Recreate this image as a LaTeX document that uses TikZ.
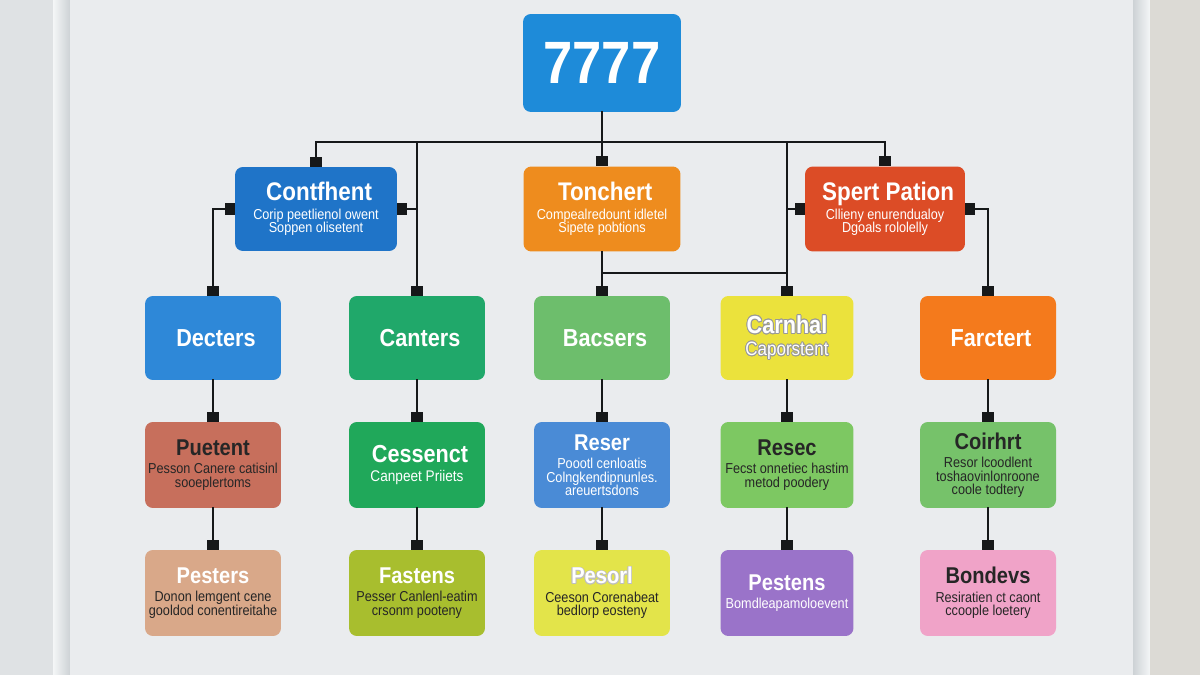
\documentclass[tikz,border=0pt]{standalone}
\usepackage{fontspec}
\setmainfont{Liberation Sans}[FakeStretch=0.88]
\usepackage{contour}
\contourlength{0.45pt}
\usetikzlibrary{arrows.meta}

\definecolor{wallleft}{HTML}{DFE2E4}
\definecolor{wallright}{HTML}{DCDAD5}
\definecolor{board}{HTML}{EAECEE}
\definecolor{framelight}{HTML}{F4F6F7}
\definecolor{framedark}{HTML}{CDD2D5}
\definecolor{wirec}{HTML}{161819}
\definecolor{cRoot}{HTML}{1E8BD9}
\definecolor{cCont}{HTML}{1F74C8}
\definecolor{cTonc}{HTML}{EE8C1E}
\definecolor{cSper}{HTML}{DC4C26}
\definecolor{cDect}{HTML}{2E88D8}
\definecolor{cCant}{HTML}{20A86A}
\definecolor{cBacs}{HTML}{6DBE6C}
\definecolor{cCarn}{HTML}{EBE23C}
\definecolor{cFarc}{HTML}{F47A1C}
\definecolor{cPuet}{HTML}{C76F5C}
\definecolor{cCess}{HTML}{20A85A}
\definecolor{cRese}{HTML}{4A8BD6}
\definecolor{cResc}{HTML}{7DC862}
\definecolor{cCoir}{HTML}{76C26A}
\definecolor{cPest}{HTML}{D9A889}
\definecolor{cFast}{HTML}{A8BE2E}
\definecolor{cPeso}{HTML}{E3E44A}
\definecolor{cPtns}{HTML}{9A73C9}
\definecolor{cBond}{HTML}{F0A3C8}

\newcommand{\boxtitle}[1][13]{\fontsize{#1}{#1}\selectfont\bfseries}
\newcommand{\boxsub}{\fontsize{8.2}{7.6}\selectfont\lineskiplimit=-20pt\relax}

\begin{document}
\begin{tikzpicture}[x=0.02cm, y=-0.02cm,
        box/.style={rounded corners=4.5pt, minimum width=2.72cm, minimum height=1.68cm, inner sep=1pt, align=center, text=white, font=\boxsub},
        dark/.style={text=black!85},
        wire/.style={line width=1.4pt, draw=wirec, line cap=rect},
        tabend/.style={wire, -{Rectangle[length=5.5pt,width=7pt]}},
        tabboth/.style={wire, {Rectangle[length=5.5pt,width=7pt]}-{Rectangle[length=5.5pt,width=7pt]}}]
    % wall, frame and board
    \useasboundingbox (0,0) rectangle (1200,675);
    \fill[wallleft] (0,0) rectangle (53,675);
    \shade[left color=framelight, right color=framedark] (53,0) rectangle (70,675);
    \fill[board] (70,0) rectangle (1133,675);
    \shade[left color=framedark, right color=framelight] (1133,0) rectangle (1150,675);
    \fill[wallright] (1150,0) rectangle (1200,675);

    % top and first row
    \node[box, fill=cRoot, minimum width=3.16cm, minimum height=1.96cm, font=\fontsize{34}{34}\selectfont\bfseries] (root) at (602,63) {7777};
    \node[box, fill=cCont, minimum width=3.24cm] (cont) at (316,209) {\boxtitle[14.5] Contfhent\\[3pt] Corip peetlienol owent\\ Soppen olisetent};
    \node[box, fill=cTonc, minimum width=3.14cm, minimum height=1.7cm] (tonc) at (602,209) {\boxtitle[14.5] Tonchert\\[3pt] Compealredount idletel\\ Sipete pobtions};
    \node[box, fill=cSper, minimum width=3.2cm, minimum height=1.7cm] (sper) at (885,209) {\boxtitle[14.5] Spert Pation\\[3pt] Cllieny enurendualoy\\ Dgoals rololelly};

    % second row
    \node[box, fill=cDect] (dect) at (213,338) {\boxtitle[14] Decters};
    \node[box, fill=cCant] (cant) at (417,338) {\boxtitle[14] Canters};
    \node[box, fill=cBacs] (bacs) at (602,338) {\boxtitle[14] Bacsers};
    \node[box, fill=cCarn, minimum width=2.66cm] (carn) at (787,338) {{\boxtitle[14]\contour{black!40}{Carnhal}}\\[5pt] {\fontsize{11}{11}\selectfont\contour{black!40}{Caporstent}}};
    \node[box, fill=cFarc] (farc) at (988,338) {\boxtitle[14] Farctert};

    % third row
    \node[box, dark, fill=cPuet, minimum height=1.72cm] (puet) at (213,465) {\boxtitle Puetent\\[3pt] Pesson Canere catisinl\\ sooeplertoms};
    \node[box, fill=cCess, minimum height=1.72cm] (cess) at (417,465) {\boxtitle[14] Cessenct\\[3pt] {\fontsize{8.8}{8.8}\selectfont Canpeet Priiets}};
    \node[box, fill=cRese, minimum height=1.72cm] (rese) at (602,465) {\boxtitle Reser\\[3pt] Poootl cenloatis\\ Colngkendipnunles.\\ areuertsdons};
    \node[box, dark, fill=cResc, minimum width=2.66cm, minimum height=1.72cm] (resc) at (787,465) {\boxtitle Resec\\[3pt] Fecst onnetiec hastim\\ metod poodery};
    \node[box, dark, fill=cCoir, minimum height=1.72cm] (coir) at (988,465) {\boxtitle Coirhrt\\[3pt] Resor lcoodlent\\ toshaovinlonroone\\ coole todtery};

    % fourth row
    \node[box, dark, fill=cPest, minimum height=1.72cm] (pest) at (213,593) {\boxtitle\color{white} Pesters\\[3pt] Donon lemgent cene\\ gooldod conentireitahe};
    \node[box, dark, fill=cFast, minimum height=1.72cm] (fast) at (417,593) {\boxtitle\color{white} Fastens\\[3pt] Pesser Canlenl-eatim\\ crsonm pooteny};
    \node[box, dark, fill=cPeso, minimum height=1.72cm] (peso) at (602,593) {\boxtitle\color{white}\contour{black!25}{Pesorl}\\[3pt] Ceeson Corenabeat\\ bedlorp eosteny};
    \node[box, fill=cPtns, minimum width=2.66cm, minimum height=1.72cm] (ptns) at (787,593) {\boxtitle Pestens\\[3pt] Bomdleapamoloevent};
    \node[box, dark, fill=cBond, minimum height=1.72cm] (bond) at (988,593) {\boxtitle Bondevs\\[3pt] Resiratien ct caont\\ ccoople loetery};

    % connectors
    \coordinate (bus) at (0,142);
    \coordinate (link) at (0,273);
    \draw[wire] (cont.north |- bus) -- (sper.north |- bus);
    \draw[tabend] (root.south) -- (tonc.north);
    \draw[tabend] (cont.north |- bus) -- (cont.north);
    \draw[tabend] (sper.north |- bus) -- (sper.north);
    \draw[tabend] (cant.north |- bus) -- (cant.north);
    \draw[tabend] (cant.north |- cont.east) -- (cont.east);
    \draw[tabend] (carn.north |- bus) -- (carn.north);
    \draw[tabend] (carn.north |- sper.west) -- (sper.west);
    \draw[tabboth] (cont.west) -| (dect.north);
    \draw[tabboth] (sper.east) -| (farc.north);
    \draw[tabend] (tonc.south) -- (bacs.north);
    \draw[wire] (bacs.north |- link) -- (carn.north |- link);
    \foreach \a/\b in {dect/puet, cant/cess, bacs/rese, carn/resc, farc/coir, puet/pest, cess/fast, rese/peso, resc/ptns, coir/bond}
        \draw[tabend] (\a.south) -- (\b.north);
\end{tikzpicture}
\end{document}
